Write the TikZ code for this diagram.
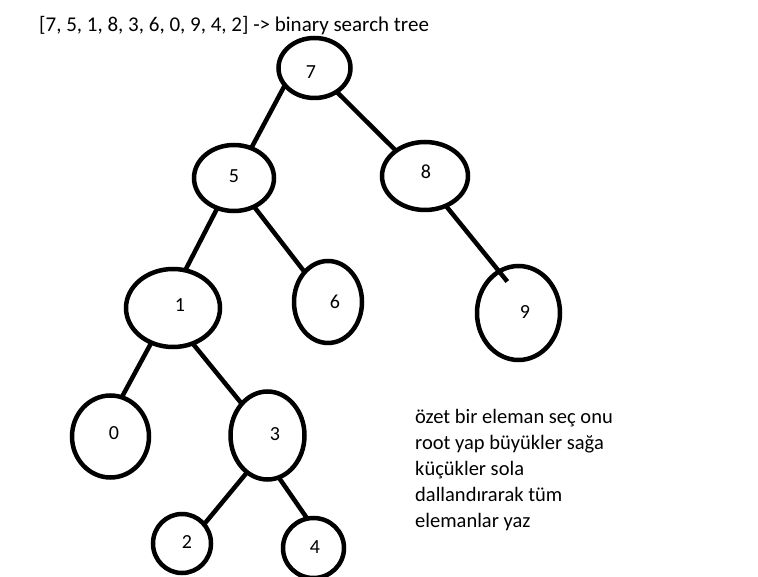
\documentclass[tikz,border=0pt]{standalone}
\usepackage{fontspec}
\setmainfont{Carlito}
\usetikzlibrary{shapes.geometric}
\tikzset{
  bnode/.style={draw, ellipse, line width=4.5pt, inner sep=0pt, outer sep=0pt},
  digit/.style={inner sep=0pt, font=\fontsize{20}{24}\selectfont},
  edge/.style={line width=4.5pt},
  txt/.style={inner sep=0pt, anchor=base west, font=\fontsize{20.5}{24}\selectfont}
}
\begin{document}
\begin{tikzpicture}[x=1pt,y=-1pt]
\useasboundingbox (0,0) rectangle (758,577);
% ellipses
\node[bnode, minimum width=72pt, minimum height=60pt] (e7) at (314.5,68) {};
\node[bnode, minimum width=80pt, minimum height=66pt] (e5) at (234,178) {};
\node[bnode, minimum width=86pt, minimum height=68pt] (e8) at (425,176) {};
\node[bnode, minimum width=94pt, minimum height=78pt] (e1) at (173,308) {};
\node[bnode, minimum width=68pt, minimum height=82pt] (e6) at (328,302) {};
\node[bnode, minimum width=83pt, minimum height=94pt] (e9) at (518.5,313) {};
\node[bnode, minimum width=77pt, minimum height=82pt] (e0) at (110.5,436.5) {};
\node[bnode, minimum width=74pt, minimum height=88pt] (e3) at (267.5,435.5) {};
\node[bnode, minimum width=58pt, minimum height=59pt] (e2) at (182,543.5) {};
\node[bnode, minimum width=61pt, minimum height=60pt] (e4) at (313.5,548) {};
% labels
\node[digit] (t7) at (311,72) {7};
\node[digit] (t5) at (234,176) {5};
\node[digit] (t8) at (426,172) {8};
\node[digit] (t1) at (180,305) {1};
\node[digit] (t6) at (335,302) {6};
\node[digit] (t9) at (525,312) {9};
\node[digit] (t0) at (114,433) {0};
\node[digit] (t3) at (275,434) {3};
\node[digit] (t2) at (187,542) {2};
\node[digit] (t4) at (315,547) {4};
% edges
\draw[edge] (e7.210) -- (e5.60);
\draw[edge] (e7.313) -- (e8.139);
\draw[edge, shorten >=-13pt] (e8.305) -- (e9.115);
\draw[edge] (e5.241) -- (e1.72);
\draw[edge] (e5.305) -- (e6.128);
\draw[edge] (e1.238) -- (e0.74);
\draw[edge] (e1.299) -- (e3.129);
\draw[edge] (e3.241) -- (e2.41);
\draw[edge] (e3.285) -- (e4.102);
% texts
\node[txt, font=\fontsize{21}{24}\selectfont] (title) at (39,32) {[7, 5, 1, 8, 3, 6, 0, 9, 4, 2] -> binary search tree};
\node[txt] (n1) at (415,423.5) {özet bir eleman seç onu};
\node[txt] (n2) at (415,449.5) {root yap büyükler sağa};
\node[txt] (n3) at (415,475.5) {küçükler sola};
\node[txt] (n4) at (415,501.5) {dallandırarak tüm};
\node[txt] (n5) at (415,527.5) {elemanlar yaz};
\end{tikzpicture}
\end{document}
